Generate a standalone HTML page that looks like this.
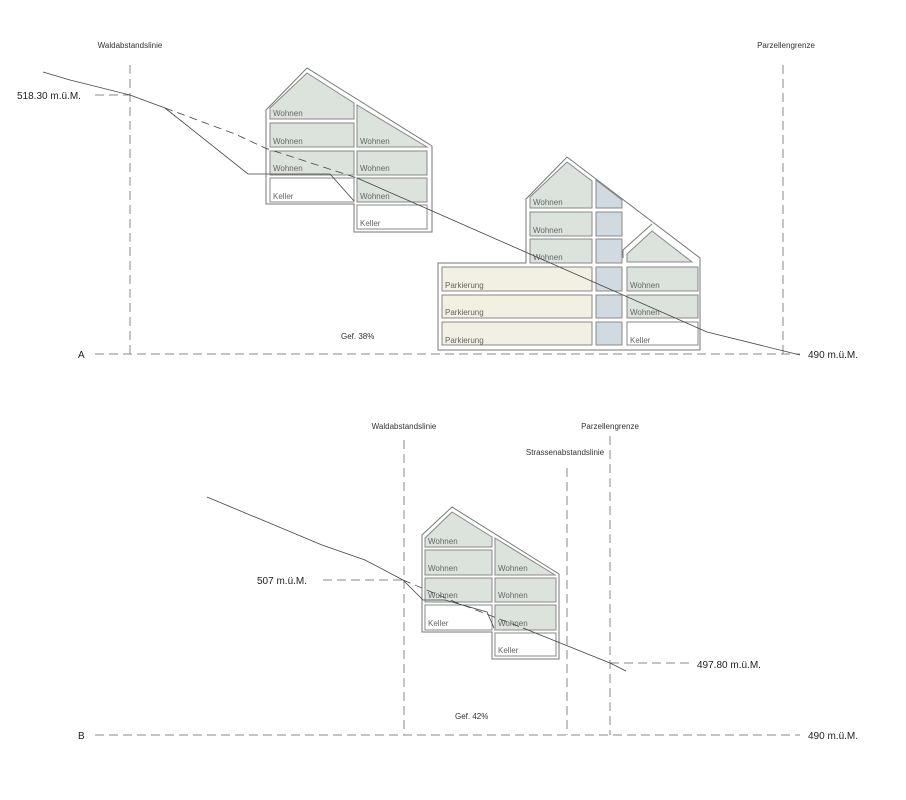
<!DOCTYPE html>
<html><head><meta charset="utf-8"><style>
html,body{margin:0;padding:0;background:#fff;}
svg{display:block;font-family:"Liberation Sans",sans-serif;}
.o{fill:none;stroke:#777;stroke-width:1}
.g{fill:#dbe3dc;stroke:#888;stroke-width:1}
.w{fill:#fff;stroke:#888;stroke-width:1}
.p{fill:#f1f0e2;stroke:#888;stroke-width:1}
.b{fill:#d1dae1;stroke:#888;stroke-width:1}
.r{font-size:8px;fill:#666}
.l{font-size:8px;fill:#333}
.m{font-size:10px;fill:#222}
.d{stroke:#888;stroke-width:1;stroke-dasharray:9,5;fill:none}
.t{stroke:#444;stroke-width:0.8;fill:none}
.td{stroke:#444;stroke-width:0.8;fill:none;stroke-dasharray:8,5}
</style></head><body>
<svg width="906" height="800" viewBox="0 0 906 800">
<!-- Section A -->
<line class="d" x1="130" y1="65" x2="130" y2="354"/>
<line class="d" x1="783" y1="65" x2="783" y2="354"/>
<text class="l" x="130" y="48" text-anchor="middle">Waldabstandslinie</text>
<text class="l" x="786" y="48" text-anchor="middle">Parzellengrenze</text>
<line class="d" x1="95" y1="354" x2="800" y2="354"/>
<text class="m" x="78" y="358">A</text>
<text class="m" x="808" y="358">490 m.ü.M.</text>
<text class="m" x="17" y="99">518.30 m.ü.M.</text>
<line class="d" x1="95" y1="95" x2="130" y2="95"/>
<text class="l" x="341" y="339">Gef. 38%</text>

<!-- Building A1 -->
<polygon class="o" points="266,110 307,68 432,146 432,232 354,232 354,204 266,204"/>
<polygon class="g" points="270,119 270,108 307,73 354,103 354,119"/>
<rect class="g" x="270" y="123" width="84" height="24"/>
<rect class="g" x="270" y="151" width="84" height="24"/>
<rect class="w" x="270" y="178" width="84" height="24"/>
<polygon class="g" points="357,105 427,147 357,147"/>
<rect class="g" x="357" y="151" width="70" height="24"/>
<rect class="g" x="357" y="178" width="70" height="24"/>
<rect class="w" x="357" y="205" width="70" height="24"/>
<text class="r" x="273" y="116">Wohnen</text>
<text class="r" x="273" y="144">Wohnen</text>
<text class="r" x="273" y="171">Wohnen</text>
<text class="r" x="273" y="199">Keller</text>
<text class="r" x="360" y="144">Wohnen</text>
<text class="r" x="360" y="171">Wohnen</text>
<text class="r" x="360" y="199">Wohnen</text>
<text class="r" x="360" y="226">Keller</text>

<!-- Building A2 -->
<polygon class="o" points="526,199 567,157 700,258 700,350 438,350 438,263 526,263"/>
<polyline class="o" points="623,258 623,250 652,224"/>
<polygon class="g" points="530,208 530,197 567,162 592,181 592,208"/>
<rect class="g" x="530" y="212" width="62" height="24"/>
<rect class="g" x="530" y="239" width="62" height="24"/>
<rect class="p" x="442" y="267" width="150" height="24"/>
<rect class="p" x="442" y="295" width="150" height="23"/>
<rect class="p" x="442" y="322" width="150" height="23"/>
<polygon class="b" points="596,180 622,200 622,208 596,208"/>
<rect class="b" x="596" y="212" width="26" height="24"/>
<rect class="b" x="596" y="239" width="26" height="24"/>
<rect class="b" x="596" y="267" width="26" height="24"/>
<rect class="b" x="596" y="295" width="26" height="23"/>
<rect class="b" x="596" y="322" width="26" height="23"/>
<polygon class="g" points="627,262 627,254 652,231 692,262"/>
<rect class="g" x="627" y="267" width="71" height="24"/>
<rect class="g" x="627" y="295" width="71" height="23"/>
<rect class="w" x="627" y="322" width="71" height="23"/>
<text class="r" x="533" y="205">Wohnen</text>
<text class="r" x="533" y="233">Wohnen</text>
<text class="r" x="533" y="260">Wohnen</text>
<text class="r" x="445" y="288">Parkierung</text>
<text class="r" x="445" y="315">Parkierung</text>
<text class="r" x="445" y="343">Parkierung</text>
<text class="r" x="630" y="288">Wohnen</text>
<text class="r" x="630" y="315">Wohnen</text>
<text class="r" x="630" y="343">Keller</text>

<!-- terrain A -->
<polyline class="t" points="43,72 70,80 130,95 165,108"/>
<polyline class="t" points="165,108 248,174 330,174 354,201"/>
<polyline class="td" points="165,108 235,134 265,148 357,178"/>
<polyline class="t" points="357,178 430,210 707,332 800,355"/>

<!-- Section B -->
<line class="d" x1="404" y1="440" x2="404" y2="735"/>
<line class="d" x1="567" y1="468" x2="567" y2="735"/>
<line class="d" x1="610" y1="436" x2="610" y2="735"/>
<text class="l" x="404" y="429" text-anchor="middle">Waldabstandslinie</text>
<text class="l" x="610" y="429" text-anchor="middle">Parzellengrenze</text>
<text class="l" x="565" y="455" text-anchor="middle">Strassenabstandslinie</text>
<line class="d" x1="95" y1="735" x2="800" y2="735"/>
<text class="m" x="78" y="739">B</text>
<text class="m" x="808" y="739">490 m.ü.M.</text>
<text class="m" x="257" y="584">507 m.ü.M.</text>
<line class="d" x1="323" y1="580" x2="403" y2="580"/>
<text class="m" x="697" y="668">497.80 m.ü.M.</text>
<line class="d" x1="610" y1="663" x2="690" y2="663"/>
<text class="l" x="455" y="719">Gef. 42%</text>

<!-- Building B -->
<polygon class="o" points="422,535 452,507 559,574 559,659 492,659 492,632 422,632"/>
<polygon class="g" points="425,547 425,538 452,512 492,537 492,547"/>
<rect class="g" x="425" y="550" width="67" height="25"/>
<rect class="g" x="425" y="578" width="67" height="24"/>
<rect class="w" x="425" y="605" width="67" height="25"/>
<polygon class="g" points="495,538 555,575 495,575"/>
<rect class="g" x="495" y="578" width="61" height="24"/>
<rect class="g" x="495" y="605" width="61" height="25"/>
<rect class="w" x="495" y="633" width="61" height="23"/>
<text class="r" x="428" y="544">Wohnen</text>
<text class="r" x="428" y="571">Wohnen</text>
<text class="r" x="428" y="598">Wohnen</text>
<text class="r" x="428" y="626">Keller</text>
<text class="r" x="498" y="571">Wohnen</text>
<text class="r" x="498" y="598">Wohnen</text>
<text class="r" x="498" y="626">Wohnen</text>
<text class="r" x="498" y="653">Keller</text>

<!-- terrain B -->
<polyline class="t" points="207,497 322,545 365,560 403,580"/>
<polyline class="t" points="403,580 423,600 445,600 487,612 494,628"/>
<polyline class="td" points="403,580 455,602 523,628"/>
<polyline class="t" points="523,628 610,663 626,671"/>
</svg>
</body></html>
